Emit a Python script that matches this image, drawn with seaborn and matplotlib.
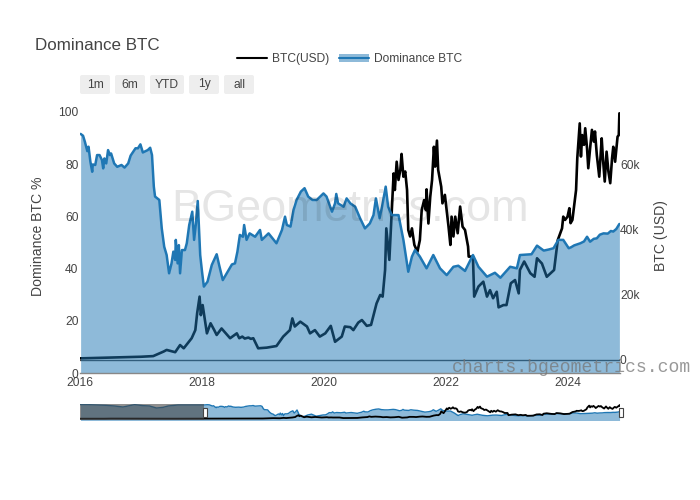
import matplotlib
matplotlib.use('Agg')
import matplotlib.pyplot as plt
import seaborn as sns
from matplotlib.legend_handler import HandlerTuple
from matplotlib.lines import Line2D
from matplotlib.patches import FancyBboxPatch, Patch, Rectangle
from matplotlib.transforms import IdentityTransform

# values, x in decimal years
dom_years = [2016.01, 2016.05, 2016.08, 2016.12, 2016.14, 2016.17, 2016.20, 2016.21, 2016.25, 2016.28,
             2016.32, 2016.36, 2016.38, 2016.40, 2016.43, 2016.46, 2016.49, 2016.51, 2016.56, 2016.61,
             2016.68, 2016.73, 2016.79, 2016.83, 2016.91, 2016.95, 2016.99, 2017.03, 2017.11, 2017.15,
             2017.18, 2017.21, 2017.23, 2017.30, 2017.34, 2017.38, 2017.42, 2017.46, 2017.50, 2017.53,
             2017.56, 2017.57, 2017.60, 2017.62, 2017.64, 2017.67, 2017.72, 2017.75, 2017.79, 2017.84,
             2017.87, 2017.90, 2017.93, 2017.97, 2018.00, 2018.03, 2018.09, 2018.16, 2018.24, 2018.28,
             2018.34, 2018.42, 2018.49, 2018.54, 2018.58, 2018.62, 2018.67, 2018.69, 2018.73, 2018.78,
             2018.87, 2018.95, 2018.98, 2019.09, 2019.22, 2019.31, 2019.36, 2019.39, 2019.45, 2019.50,
             2019.55, 2019.62, 2019.68, 2019.74, 2019.81, 2019.88, 2019.99, 2020.04, 2020.13, 2020.18,
             2020.20, 2020.23, 2020.32, 2020.37, 2020.43, 2020.51, 2020.59, 2020.67, 2020.75, 2020.81,
             2020.85, 2020.91, 2020.95, 2021.01, 2021.05, 2021.11, 2021.22, 2021.30, 2021.38, 2021.44,
             2021.49, 2021.57, 2021.68, 2021.79, 2021.90, 2022.01, 2022.12, 2022.20, 2022.31, 2022.44,
             2022.53, 2022.67, 2022.80, 2022.89, 2023.05, 2023.16, 2023.21, 2023.40, 2023.49, 2023.60,
             2023.68, 2023.76, 2023.84, 2023.92, 2024.01, 2024.05, 2024.10, 2024.20, 2024.26, 2024.31,
             2024.36, 2024.42, 2024.47, 2024.52, 2024.58, 2024.65, 2024.70, 2024.74, 2024.79, 2024.84]
dominance = [91.6, 90.9, 88.6, 85.0, 86.7, 81.0, 77.1, 79.9, 79.7, 83.5,
             83.5, 81.6, 78.4, 82.2, 80.3, 85.4, 83.5, 84.1, 80.3, 79.0,
             79.7, 78.7, 80.3, 83.3, 86.1, 86.1, 87.6, 84.5, 85.4, 86.3,
             83.5, 71.4, 67.6, 66.3, 55.4, 48.4, 45.2, 38.2, 42.0, 46.5,
             43.3, 51.0, 42.0, 49.0, 38.2, 47.1, 47.1, 49.7, 56.7, 61.8,
             51.0, 57.3, 65.9, 45.2, 38.8, 33.1, 35.0, 41.4, 45.5, 41.4,
             35.6, 38.8, 41.6, 42.0, 46.5, 52.9, 52.2, 56.7, 51.0, 53.5,
             52.2, 54.8, 51.0, 53.5, 49.7, 54.8, 59.9, 56.7, 56.1, 62.5,
             66.3, 69.5, 70.8, 67.6, 66.3, 66.3, 68.8, 67.6, 61.8, 65.0,
             68.6, 65.0, 63.7, 66.9, 65.0, 63.7, 59.3, 55.4, 57.3, 60.5,
             66.9, 59.3, 63.7, 71.4, 63.7, 60.5, 60.5, 51.0, 38.8, 44.6,
             47.1, 44.6, 40.1, 45.2, 40.1, 37.5, 40.7, 41.1, 39.1, 45.2,
             40.7, 36.9, 38.4, 36.5, 40.7, 40.1, 45.2, 45.5, 48.8, 46.9,
             47.3, 47.8, 51.0, 51.0, 47.8, 48.2, 48.9, 49.7, 50.4, 52.2,
             50.3, 51.4, 51.6, 53.0, 53.5, 53.4, 54.4, 54.2, 55.2, 57.1]

btc_years = [2016.00, 2016.38, 2016.77, 2017.00, 2017.20, 2017.37, 2017.42, 2017.56, 2017.64, 2017.70,
             2017.83, 2017.89, 2017.92, 2017.96, 2017.98, 2018.01, 2018.08, 2018.14, 2018.20, 2018.24,
             2018.32, 2018.46, 2018.57, 2018.61, 2018.66, 2018.70, 2018.76, 2018.80, 2018.84, 2018.92,
             2019.06, 2019.22, 2019.33, 2019.44, 2019.48, 2019.52, 2019.61, 2019.72, 2019.77, 2019.85,
             2019.93, 2020.02, 2020.11, 2020.18, 2020.29, 2020.34, 2020.43, 2020.48, 2020.56, 2020.62,
             2020.70, 2020.77, 2020.86, 2020.92, 2020.96, 2021.00, 2021.02, 2021.07, 2021.11, 2021.14,
             2021.16, 2021.19, 2021.22, 2021.25, 2021.27, 2021.30, 2021.33, 2021.36, 2021.38, 2021.41,
             2021.44, 2021.48, 2021.53, 2021.57, 2021.60, 2021.64, 2021.67, 2021.68, 2021.71, 2021.74,
             2021.77, 2021.80, 2021.82, 2021.85, 2021.87, 2021.92, 2021.94, 2021.98, 2022.04, 2022.07,
             2022.09, 2022.12, 2022.15, 2022.19, 2022.23, 2022.27, 2022.31, 2022.36, 2022.37, 2022.44,
             2022.46, 2022.53, 2022.61, 2022.67, 2022.72, 2022.77, 2022.83, 2022.86, 2022.94, 2022.99,
             2023.06, 2023.13, 2023.19, 2023.21, 2023.28, 2023.38, 2023.45, 2023.49, 2023.57, 2023.65,
             2023.77, 2023.83, 2023.90, 2023.92, 2023.95, 2023.99, 2024.02, 2024.04, 2024.07, 2024.10,
             2024.13, 2024.15, 2024.19, 2024.21, 2024.23, 2024.26, 2024.28, 2024.31, 2024.33, 2024.36,
             2024.39, 2024.42, 2024.44, 2024.47, 2024.51, 2024.55, 2024.57, 2024.60, 2024.63, 2024.66,
             2024.69, 2024.72, 2024.74, 2024.77, 2024.81, 2024.83, 2024.84]
btc_k = [0.5, 0.7, 0.9, 1.0, 1.2, 2.6, 3.1, 2.4, 4.6, 3.6,
         6.7, 9.2, 14.4, 19.5, 13.8, 16.9, 8.2, 11.3, 9.2, 7.7,
         9.7, 6.7, 8.2, 6.7, 7.2, 6.6, 6.9, 6.5, 6.7, 3.6,
         3.8, 4.3, 7.2, 9.2, 12.8, 10.3, 11.8, 10.3, 8.2, 9.2,
         7.2, 8.2, 10.5, 5.6, 7.2, 10.3, 10.1, 9.2, 11.5, 12.3,
         10.5, 10.8, 17.4, 20.0, 19.5, 27.7, 40.5, 30.8, 46.1, 57.4,
         52.3, 61.0, 55.4, 58.5, 63.4, 56.4, 58.0, 52.3, 40.0, 38.0,
         40.5, 35.4, 33.3, 36.9, 46.1, 49.2, 46.1, 52.5, 42.0, 50.2,
         55.4, 65.6, 59.5, 67.5, 58.5, 53.3, 48.2, 50.8, 41.0, 35.4,
         44.1, 38.0, 44.1, 39.0, 47.2, 41.0, 40.0, 34.9, 31.8, 31.8,
         19.5, 22.6, 24.1, 19.5, 21.5, 19.0, 21.0, 16.2, 16.9, 16.9,
         23.6, 24.6, 20.5, 27.7, 30.3, 26.7, 25.6, 31.3, 29.7, 25.6,
         27.7, 36.9, 40.5, 44.1, 43.1, 44.1, 46.7, 42.1, 43.1, 47.7,
         52.3, 62.1, 72.8, 62.6, 69.2, 66.2, 71.3, 65.1, 59.0, 65.1,
         70.8, 67.2, 70.3, 63.1, 56.4, 68.2, 62.1, 54.9, 64.1, 58.0,
         54.4, 62.1, 65.6, 61.0, 68.7, 69.2, 75.9]

# the range slider also shows the years before the main view
early_dom_years = [2013.29, 2013.45, 2013.67, 2013.84, 2014.02, 2014.20, 2014.31, 2014.45,
                   2014.63, 2014.77, 2014.92, 2015.06, 2015.17, 2015.38, 2015.59, 2015.94]
early_dom = [91.9, 91.9, 90.3, 88.6, 85.3, 80.3, 85.3, 91.9,
             87.0, 85.3, 75.3, 78.6, 85.3, 90.3, 90.3, 90.3]
early_btc_years = [2013.28, 2013.60, 2013.80, 2013.95, 2014.30, 2014.90, 2015.30, 2015.90]
early_btc_k = [0.1, 0.1, 0.2, 0.8, 0.5, 0.3, 0.2, 0.4]

year_ticks = [2016, 2018, 2020, 2022, 2024]
dom_ticks = [0, 20, 40, 60, 80, 100]
btc_ticks = [0, 20, 40, 60]
btc_labels = ['0', '20k', '40k', '60k']
buttons = ['1m', '6m', 'YTD', '1y', 'all']

BLUE = '#1f77b4'
GREY = '#444444'
X_MIN, X_MAX = 2016, 2024.85
SLIDER_MIN = 2013.28

sns.set_theme(style='white')
plt.rcParams['font.family'] = ['Liberation Sans', 'DejaVu Sans']

W, H = 700, 500
fig = plt.figure(figsize=(7, 5), dpi=100)


def box(x0, y0, x1, y1):
    return [x0 / W, 1 - y1 / H, (x1 - x0) / W, (y1 - y0) / H]


def put(x, y, s, **kw):
    return fig.text(x / W, 1 - y / H, s, **kw)


# main plot, btc axis sits under the dominance fill
ax = fig.add_axes(box(80, 112, 620, 373))
ax2 = ax.twinx()
ax.set_zorder(2)
ax.patch.set_visible(False)

sns.lineplot(x=btc_years, y=btc_k, ax=ax2, color='black', linewidth=1.9, estimator=None, sort=False)
ax2.axhline(0, color=GREY, linewidth=1)
ax2.set_ylim(-4, 76.3)
ax2.set_yticks(btc_ticks)
ax2.set_yticklabels(btc_labels)

sns.lineplot(x=dom_years, y=dominance, ax=ax, color=BLUE, linewidth=1.8, estimator=None, sort=False)
ax.fill_between(dom_years, dominance, 0, color=BLUE, alpha=0.5, linewidth=0)
ax.set_xlim(X_MIN, X_MAX)
ax.set_ylim(0, 100)
ax.set_yticks(dom_ticks)
ax.set_xticks(year_ticks)
ax.set_xticklabels([str(y) for y in year_ticks])
ax.set_xlabel('')
ax.set_ylabel('')
ax2.set_ylabel('')

for a in (ax, ax2):
    for s in a.spines.values():
        s.set_visible(False)
    a.tick_params(axis='both', length=0, labelsize=8.64, labelcolor=GREY, pad=1)
ax2.tick_params(axis='y', pad=0)
ax.spines['bottom'].set_visible(True)
ax.spines['bottom'].set_color('#888888')
ax.spines['bottom'].set_linewidth(1)
ax.tick_params(axis='x', pad=3)

# range slider
sl = fig.add_axes(box(80, 404, 620, 419.5))
sl2 = sl.twinx()
all_dom_years = early_dom_years + dom_years
all_dom = early_dom + dominance
all_btc_years = early_btc_years + btc_years
all_btc_k = early_btc_k + btc_k
sns.lineplot(x=all_dom_years, y=all_dom, ax=sl, color=BLUE, linewidth=1, estimator=None, sort=False)
sl.fill_between(all_dom_years, all_dom, 0, color=BLUE, alpha=0.5, linewidth=0)
sns.lineplot(x=all_btc_years, y=all_btc_k, ax=sl2, color='black', linewidth=1.3, estimator=None, sort=False)
sl.set_xlim(SLIDER_MIN, X_MAX)
sl.set_ylim(19.5, 95)
sl2.set_ylim(-4.4, 81.6)
for a in (sl, sl2):
    a.set_xticks([])
    a.set_yticks([])
    a.set_xlabel('')
    a.set_ylabel('')
    for s in a.spines.values():
        s.set_visible(False)
sl2.add_patch(Rectangle((0, 0), (204 - 80) / 540, 1, transform=sl2.transAxes,
                        facecolor='#444444', alpha=0.6, linewidth=0, zorder=5))
for hx in (204.5, 620.5):
    fig.add_artist(Rectangle((hx - 2, H - 417), 4, 9, transform=IdentityTransform(),
                             facecolor='white', edgecolor='#444444', linewidth=0.8, zorder=6))

# range buttons
btn_edges = [(80, 110), (115, 145), (150, 184), (189, 219), (224, 254)]
for lab, (x0, x1) in zip(buttons, btn_edges):
    fig.add_artist(FancyBboxPatch((x0 + 1, H - 93), x1 - x0 - 2, 17, boxstyle='round,pad=1,rounding_size=2',
                                  transform=IdentityTransform(), facecolor='#eeeeee', edgecolor='none'))
    put((x0 + x1) / 2, 84.5, lab, ha='center', va='center', fontsize=8.64, color=GREY)

# texts
put(35, 45, 'Dominance BTC', ha='left', va='center', fontsize=12.24, color=GREY)
put(38, 236, 'Dominance BTC %', rotation=90, ha='center', va='center', fontsize=10.08, color=GREY)
put(661, 236, 'BTC (USD)', rotation=90, ha='center', va='center', fontsize=10.08, color=GREY)
put(350, 210, 'BGeometrics.com', ha='center', va='center', fontsize=32.4, color='black', alpha=0.1, zorder=10)
put(452, 368, 'charts.bgeometrics.com', ha='left', va='center', fontsize=13.08, color='#777777',
    alpha=0.75, family='Liberation Mono', zorder=10)

# legend
handles = [Line2D([], [], color='black', linewidth=1.5),
           (Patch(facecolor=BLUE, alpha=0.5, linewidth=0), Line2D([], [], color=BLUE, linewidth=1.5))]
fig.legend(handles, ['BTC(USD)', 'Dominance BTC'], ncol=2, loc='center', bbox_to_anchor=(349.5 / W, 1 - 59 / H),
           frameon=False, fontsize=8.64, labelcolor=GREY, handlelength=2.5, handletextpad=0.4,
           columnspacing=0.8, handler_map={tuple: HandlerTuple(ndivide=1)})

fig.savefig('out.png', dpi=100)
